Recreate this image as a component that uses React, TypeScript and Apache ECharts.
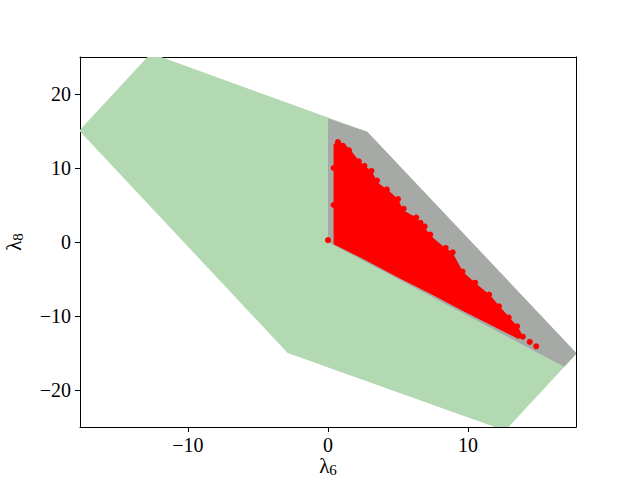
import React, { useEffect, useRef } from "react";
import * as echarts from "echarts";

const xTicks = [-10, 0, 10];
const yTicks = [-20, -10, 0, 10, 20];
const xLimits = [-17.7, 17.7];
const yLimits = [-25, 25];

// green hexagon (feasible region)
const greenRegion: number[][] = [
  [-17.75, 15.05], [-12.64, 25.5], [2.8, 14.9], [17.75, -15.05], [12.64, -25.5], [-2.88, -15.0],
];
// gray pentagon
const grayRegion: number[][] = [
  [0, 0], [0, 16.7], [2.8, 14.9], [17.75, -15.05], [16.86, -16.86],
];
// outline of the dense red sample cloud
const redCloud: number[][] = [
  [0.4, 13.2], [0.71, 13.6], [1.21, 13.2], [1.79, 12.0], [2.29, 10.8], [3.14, 9.5], [3.57, 8.0],
  [4.29, 7.0], [5.0, 5.8], [5.36, 4.3], [6.21, 3.4], [6.79, 2.3], [7.29, 0.9], [8.36, -0.8],
  [8.86, -1.35], [9.64, -4.05], [10.5, -5.5], [11.57, -7.2], [12.29, -8.8], [13.0, -10.3],
  [13.57, -11.5], [13.93, -12.8], [13.6, -13.1], [12.0, -11.6], [9.6, -9.3], [7.3, -7.0],
  [5.1, -4.9], [2.3, -2.1], [0.4, -0.3],
];
// individual samples visible at the cloud's edge
const redPoints: number[][] = [
  [0.0, 0.25], [0.71, 13.5], [1.07, 13.0], [1.5, 12.4], [2.2, 10.9], [2.6, 10.3], [3.1, 9.6],
  [3.5, 8.3], [4.2, 7.1], [5.0, 5.8], [5.4, 4.5], [6.3, 3.3], [6.6, 2.6], [6.9, 2.1], [7.3, 1.0],
  [8.4, -0.8], [8.9, -1.4], [9.6, -4.0], [10.5, -5.5], [11.5, -7.1], [12.2, -8.7], [12.9, -10.2],
  [13.5, -11.4], [13.9, -12.8], [14.4, -13.5], [14.86, -14.1], [0.4, 5.0], [0.4, 10.0],
];

const polySeries = (pts: number[][], color: string, z: number) => ({
  type: "custom",
  clip: true,
  z,
  silent: true,
  data: [[pts[0][0], pts[0][1]]],
  renderItem: (_params: any, api: any) => ({
    type: "polygon",
    shape: { points: pts.map((p) => api.coord(p)) },
    style: { fill: color, stroke: null },
  }),
});

const font = "Liberation Serif";

export default function App() {
  const ref = useRef<HTMLDivElement>(null);
  useEffect(() => {
    const chart = echarts.init(ref.current!, null, { renderer: "svg" });
    const boxAxis = {
      show: true,
      axisLine: { show: true, onZero: false, lineStyle: { color: "#000", width: 1 } },
      axisTick: { show: false },
      axisLabel: { show: false },
      splitLine: { show: false },
    };
    const nameRich = {
      l: { fontFamily: font, fontSize: 21, lineHeight: 22, color: "#000", verticalAlign: "top" },
      s: { fontFamily: font, fontSize: 15, lineHeight: 14, color: "#000", verticalAlign: "bottom" },
    };
    chart.setOption({
      animation: false,
      backgroundColor: "#fff",
      grid: { left: 80, right: 64, top: 57, bottom: 53, containLabel: false, outerBoundsMode: "none" },
      xAxis: [
        {
          type: "value",
          min: xLimits[0],
          max: xLimits[1],
          name: "{l|λ}{s|6}",
          nameLocation: "middle",
          nameGap: 28,
          nameMoveOverlap: false,
          nameTextStyle: { rich: nameRich },
          axisLine: { show: true, onZero: false, lineStyle: { color: "#000", width: 1 } },
          axisTick: { show: true, inside: false, length: 5, customValues: xTicks, lineStyle: { color: "#000" } },
          axisLabel: {
            customValues: xTicks,
            margin: 8,
            fontFamily: font,
            fontSize: 20,
            color: "#000",
            formatter: (v: number) => (v < 0 ? "\u2212" + Math.abs(v) : String(v)),
          },
          splitLine: { show: false },
        },
        { type: "value", min: xLimits[0], max: xLimits[1], position: "top", ...boxAxis },
      ],
      yAxis: [
        {
          type: "value",
          min: yLimits[0],
          max: yLimits[1],
          name: "{l|λ}{s|8}",
          nameLocation: "middle",
          nameGap: 55,
          nameRotate: 90,
          nameMoveOverlap: false,
          nameTextStyle: { rich: nameRich },
          axisLine: { show: true, onZero: false, lineStyle: { color: "#000", width: 1 } },
          axisTick: { show: true, inside: false, length: 5, customValues: yTicks, lineStyle: { color: "#000" } },
          axisLabel: {
            customValues: yTicks,
            margin: 9,
            fontFamily: font,
            fontSize: 20,
            color: "#000",
            formatter: (v: number) => (v < 0 ? "\u2212" + Math.abs(v) : String(v)),
          },
          splitLine: { show: false },
        },
        { type: "value", min: yLimits[0], max: yLimits[1], position: "right", ...boxAxis },
      ],
      series: [
        polySeries(greenRegion, "#b3d9b3", 1),
        polySeries(grayRegion, "#a6a9a6", 2),
        polySeries(redCloud, "#ff0000", 3),
        {
          type: "scatter",
          z: 4,
          symbol: "circle",
          symbolSize: 6,
          itemStyle: { color: "#ff0000", opacity: 1 },
          data: redPoints,
          silent: true,
        },
      ],
    });
    return () => chart.dispose();
  }, []);
  return (
    <div
      ref={ref}
      style={{ position: "absolute", left: 0, top: 0, width: 640, height: 480 }}
    />
  );
}
